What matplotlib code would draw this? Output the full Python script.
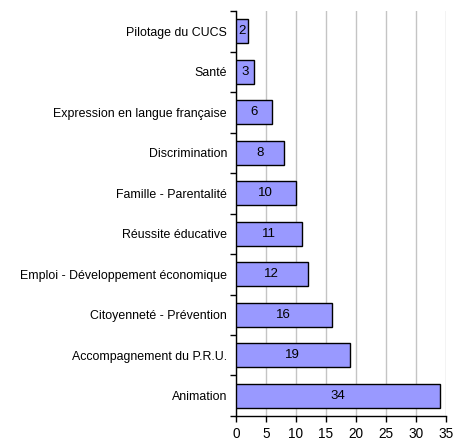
import matplotlib
matplotlib.use("Agg")
import matplotlib.pyplot as plt

categories = ["Pilotage du CUCS", "Santé", "Expression en langue française", "Discrimination",
              "Famille - Parentalité", "Réussite éducative", "Emploi - Développement économique",
              "Citoyenneté - Prévention", "Accompagnement du P.R.U.", "Animation"]
values = [2, 3, 6, 8, 10, 11, 12, 16, 19, 34]
xticks = [0, 5, 10, 15, 20, 25, 30, 35]

plt.rcParams['font.family'] = ['Liberation Sans', 'DejaVu Sans']

fig = plt.figure(figsize=(4.65, 4.43), dpi=100)
ax = fig.add_axes([0.507, 0.061, 0.452, 0.914])

n = len(categories)
pos = list(range(n))
ax.barh(pos, values, height=0.6, color="#9999FF", edgecolor="black", linewidth=1.0, zorder=3)
for p, v in zip(pos, values):
    ax.text(v / 2, p, str(v), ha="center", va="center", fontsize=9.5, zorder=4)

ax.set_ylim(n - 0.5, -0.5)
ax.set_xlim(0, 35)
ax.set_yticks(pos)
ax.set_yticklabels(categories, fontsize=8.9)
ax.tick_params(axis="y", length=0, pad=6.3)
ax.set_yticks([i - 0.5 for i in range(n + 1)], minor=True)
ax.tick_params(axis="y", which="minor", length=4, width=1, direction="out")
ax.set_xticks(xticks)
ax.set_xticklabels([str(t) for t in xticks], fontsize=9.8)
ax.tick_params(axis="x", length=4, width=1, direction="out", pad=4)
ax.grid(axis="x", color="#c4c4c4", linewidth=1.0, zorder=0)
for s in ["top", "right"]:
    ax.spines[s].set_visible(False)
ax.spines["left"].set_linewidth(1.0)
ax.spines["bottom"].set_linewidth(1.0)

fig.savefig("out.png", dpi=100)
